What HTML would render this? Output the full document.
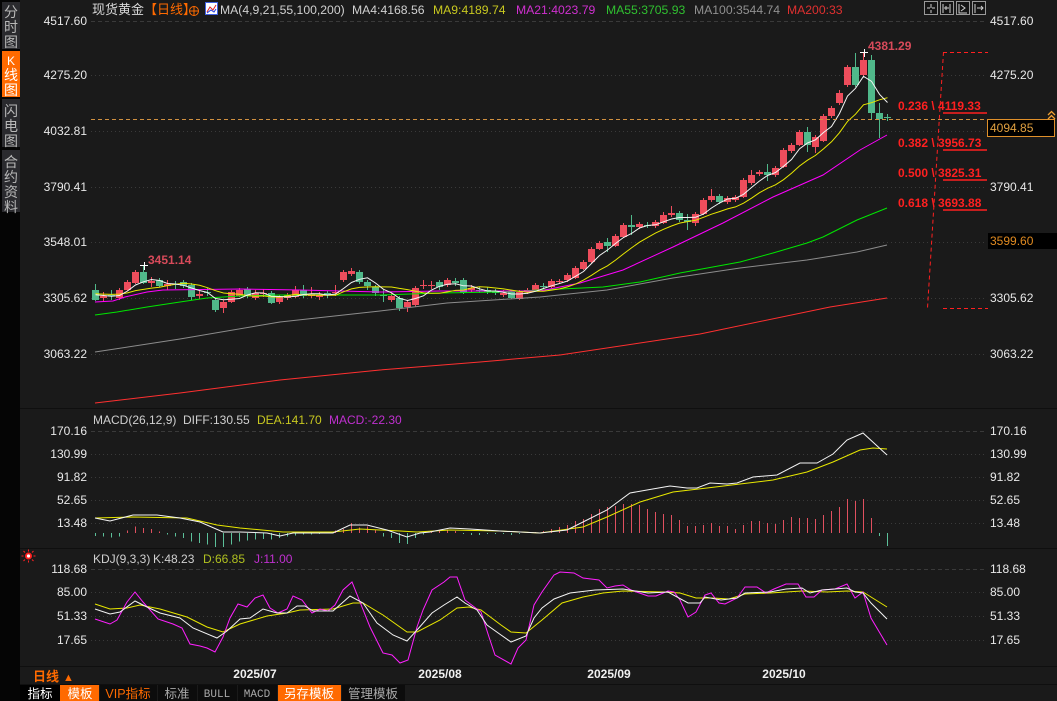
<!DOCTYPE html>
<html><head><meta charset="utf-8">
<style>
html,body{margin:0;padding:0;background:#1a1a1a;width:1057px;height:701px;overflow:hidden}
svg{display:block;font-family:"Liberation Sans","Noto Sans CJK SC",sans-serif}
</style></head><body>
<svg id="s" width="1057" height="701" viewBox="0 0 1057 701" xmlns="http://www.w3.org/2000/svg">
<rect width="1057" height="701" fill="#1a1a1a"/>
<rect x="0" y="0" width="20" height="701" fill="#050505"/>
<rect x="2" y="2" width="18" height="47" fill="#2a2a2e"/>
<rect x="2" y="51" width="18" height="46" fill="#ff6a00"/>
<rect x="2" y="99" width="18" height="48" fill="#2a2a2e"/>
<rect x="2" y="150" width="18" height="62" fill="#2a2a2e"/>
<g font-size="14" text-anchor="middle" fill="#b8b8b8">
<text x="11" y="17">分</text><text x="11" y="32">时</text><text x="11" y="47">图</text>
<text x="11" y="65" fill="#fff" font-size="12">K</text><text x="11" y="80" fill="#fff">线</text><text x="11" y="95" fill="#fff">图</text>
<text x="11" y="116">闪</text><text x="11" y="131">电</text><text x="11" y="146">图</text>
<text x="11" y="167">合</text><text x="11" y="182">约</text><text x="11" y="197">资</text><text x="11" y="212">料</text>
</g>
<g stroke="#0f0f0f" stroke-width="1" shape-rendering="crispEdges">
<line x1="20" y1="408.5" x2="1057" y2="408.5"/>
<line x1="20" y1="548.5" x2="1057" y2="548.5"/>
<line x1="20" y1="666.5" x2="1057" y2="666.5"/>
<line x1="20" y1="684.5" x2="1057" y2="684.5"/>
</g>
<g stroke="#3a3a3a" stroke-width="1" shape-rendering="crispEdges">
<line x1="91" y1="21.5" x2="987" y2="21.5" stroke-dasharray="4,3"/>
<g stroke-dasharray="1,3">
<line x1="91" y1="75.5" x2="987" y2="75.5"/><line x1="91" y1="131.5" x2="987" y2="131.5"/>
<line x1="91" y1="187.5" x2="987" y2="187.5"/><line x1="91" y1="242.5" x2="987" y2="242.5"/>
<line x1="91" y1="298.5" x2="987" y2="298.5"/><line x1="91" y1="354.5" x2="987" y2="354.5"/>
<line x1="91" y1="454.5" x2="987" y2="454.5"/><line x1="91" y1="477.5" x2="987" y2="477.5"/>
<line x1="91" y1="500.5" x2="987" y2="500.5"/><line x1="91" y1="523.5" x2="987" y2="523.5"/>
<line x1="91" y1="592.5" x2="987" y2="592.5"/><line x1="91" y1="616.5" x2="987" y2="616.5"/>
<line x1="91" y1="640.5" x2="987" y2="640.5"/>
</g>
<line x1="91" y1="431.5" x2="987" y2="431.5" stroke-dasharray="4,3"/>
<line x1="91" y1="569.5" x2="987" y2="569.5" stroke-dasharray="4,3"/>
</g>
<g id="plot"></g>
<line x1="91" y1="119.5" x2="987" y2="119.5" stroke="#d09040" stroke-dasharray="4,3" shape-rendering="crispEdges"/>
<g stroke="#ff2020" fill="none">
<line x1="943" y1="52.5" x2="988" y2="52.5" stroke-dasharray="4,3"/>
<line x1="943" y1="308.5" x2="988" y2="308.5" stroke-dasharray="4,3"/>
<line x1="943.5" y1="52" x2="927.5" y2="308" stroke-dasharray="4,3"/>
<g stroke-width="1.5"><line x1="943" y1="113" x2="987" y2="113"/><line x1="943" y1="150" x2="987" y2="150"/><line x1="943" y1="180" x2="987" y2="180"/><line x1="943" y1="210" x2="987" y2="210"/></g>
</g>
<g font-size="12" font-weight="bold" fill="#ff2020">
<text x="898" y="110">0.236 \ 4119.33</text>
<text x="898" y="147">0.382 \ 3956.73</text>
<text x="898" y="177">0.500 \ 3825.31</text>
<text x="898" y="207">0.618 \ 3693.88</text>
</g>
<g font-size="12" font-weight="bold" fill="#d84a5a">
<text x="868" y="50">4381.29</text>
<text x="148" y="264">3451.14</text>
</g>
<g stroke="#fff" stroke-width="1" shape-rendering="crispEdges">
<line x1="140" y1="265.5" x2="148" y2="265.5"/><line x1="144.5" y1="262" x2="144.5" y2="270"/>
<line x1="860" y1="52.5" x2="868" y2="52.5"/><line x1="864.5" y1="49" x2="864.5" y2="57"/>
</g>
<g font-size="12.2">
<text x="92" y="14" fill="#d8d8d8" font-size="13">现货黄金</text>
<text x="144" y="14" fill="#ff6a00" font-size="13">【日线】</text>
<text x="220" y="14" fill="#d0d0d0">MA(4,9,21,55,100,200)</text>
<text x="352" y="14" fill="#d0d0d0">MA4:4168.56</text>
<text x="433" y="14" fill="#c8c820">MA9:4189.74</text>
<text x="516" y="14" fill="#d030d0">MA21:4023.79</text>
<text x="606" y="14" fill="#30c030">MA55:3705.93</text>
<text x="694" y="14" fill="#909090">MA100:3544.74</text>
<text x="787" y="14" fill="#e03030">MA200:33</text>
</g>
<g stroke="#ff6a00" fill="none"><circle cx="194" cy="11" r="4.5"/><line x1="189" y1="11" x2="199" y2="11"/><line x1="194" y1="6" x2="194" y2="16"/></g>
<rect x="205.5" y="2.5" width="12" height="12" fill="#fff" stroke="#4060e0"/>
<polyline points="207,12 210,7 213,10 216,5" stroke="#e02020" fill="none"/>
<polyline points="207,13 211,10 214,12 216,9" stroke="#2040e0" fill="none"/>
<g stroke="#9a9a9a" fill="#151515">
<rect x="924.5" y="1.5" width="13" height="13"/><rect x="940.5" y="1.5" width="13" height="13"/>
<rect x="956.5" y="1.5" width="13" height="13"/><rect x="972.5" y="1.5" width="13" height="13"/>
</g>
<g stroke="#d0d0d0" fill="none">
<path d="M931 4v4M931 10v3M927 8h3M932 8h3"/>
<path d="M943 4v9M950 4v9M944 8h5M946 6v4"/>
<path d="M959 4v9h8M961 5l4 3-4 3"/>
<path d="M975 4v9M977 8h6M981 6l2 2-2 2"/>
</g>
<g font-size="12" fill="#e8e8e8" text-anchor="end">
<text x="87" y="25">4517.60</text><text x="87" y="79">4275.20</text><text x="87" y="135">4032.81</text>
<text x="87" y="191">3790.41</text><text x="87" y="246">3548.01</text><text x="87" y="302">3305.62</text>
<text x="87" y="358">3063.22</text>
<text x="87" y="435">170.16</text><text x="87" y="458">130.99</text><text x="87" y="481">91.82</text>
<text x="87" y="504">52.65</text><text x="87" y="527">13.48</text>
<text x="87" y="573">118.68</text><text x="87" y="596">85.00</text><text x="87" y="620">51.33</text><text x="87" y="644">17.65</text>
</g>
<g font-size="12" fill="#e8e8e8">
<text x="990" y="25">4517.60</text><text x="990" y="79">4275.20</text>
<text x="990" y="191">3790.41</text><text x="990" y="302">3305.62</text><text x="990" y="358">3063.22</text>
<text x="990" y="435">170.16</text><text x="990" y="458">130.99</text><text x="990" y="481">91.82</text>
<text x="990" y="504">52.65</text><text x="990" y="527">13.48</text>
<text x="990" y="573">118.68</text><text x="990" y="596">85.00</text><text x="990" y="620">51.33</text><text x="990" y="644">17.65</text>
</g>
<rect x="987.5" y="119.5" width="67" height="17" fill="#000" stroke="#e0902a"/>
<text x="990" y="132" font-size="12" fill="#e0a040">4094.85</text>
<rect x="988" y="233" width="69" height="16" fill="#000"/>
<text x="990" y="245" font-size="12" fill="#e08a20">3599.60</text>
<g stroke="#f0a030" fill="none" stroke-width="1.3"><polyline points="1048,115 1051.5,111.5 1055,115"/><polyline points="1048,119 1051.5,115.5 1055,119"/></g>
<g font-size="12">
<text x="93" y="424" fill="#d0d0d0">MACD(26,12,9)</text>
<text x="183" y="424" fill="#d0d0d0">DIFF:130.55</text>
<text x="257" y="424" fill="#c8c820">DEA:141.70</text>
<text x="329" y="424" fill="#c030d0">MACD:-22.30</text>
<text x="93" y="563" fill="#d0d0d0">KDJ(9,3,3)</text>
<text x="153" y="563" fill="#d0d0d0">K:48.23</text>
<text x="203" y="563" fill="#b0c020">D:66.85</text>
<text x="254" y="563" fill="#c030d0">J:11.00</text>
</g>
<g stroke="#ff2020" stroke-width="1">
<path d="M28.5 549.5v2M28.5 560.5v2M21.5 556h2M33.5 556h2M23.5 551l1.5 1.5M33.5 551l-1.5 1.5M23.5 561l1.5-1.5M33.5 561l-1.5-1.5"/>
</g>
<circle cx="28.5" cy="556" r="3.5" fill="#ff2020"/><circle cx="28.5" cy="556" r="1.6" fill="#fff"/>
<g font-size="12" font-weight="bold" fill="#f0f0f0" text-anchor="middle">
<text x="255" y="678">2025/07</text><text x="440" y="678">2025/08</text>
<text x="609" y="678">2025/09</text><text x="784" y="678">2025/10</text>
</g>
<text x="33" y="681" font-size="13" font-weight="bold" fill="#ff6a00">日线</text>
<text x="63" y="681" font-size="11" fill="#ff6a00">▲</text>
<rect x="20" y="685" width="40" height="16" fill="#000"/>
<rect x="60" y="685" width="39" height="16" fill="#ff6a00"/>
<rect x="100" y="685" width="57" height="16" fill="#0c0c0c"/>
<rect x="158" y="685" width="39" height="16" fill="#0c0c0c"/>
<rect x="198" y="685" width="39" height="16" fill="#0c0c0c"/>
<rect x="238" y="685" width="39" height="16" fill="#0c0c0c"/>
<rect x="278" y="685" width="63" height="16" fill="#ff6a00"/>
<rect x="342" y="685" width="63" height="16" fill="#0c0c0c"/>
<g font-size="12.5" text-anchor="middle">
<text x="40" y="698" fill="#fff">指标</text>
<text x="80" y="698" fill="#fff">模板</text>
<text x="128" y="698" fill="#ff6a00">VIP指标</text>
<text x="177" y="698" fill="#a8a8a8">标准</text>
<text x="217" y="697" fill="#a8a8a8" font-family="Liberation Mono" font-size="11">BULL</text>
<text x="257" y="697" fill="#a8a8a8" font-family="Liberation Mono" font-size="11">MACD</text>
<text x="309" y="698" fill="#fff">另存模板</text>
<text x="373" y="698" fill="#a8a8a8">管理模板</text>
</g>
</svg>
<script>
(function(){
var NS='http://www.w3.org/2000/svg';
var g=document.getElementById('plot');
function el(n,a){var e=document.createElementNS(NS,n);for(var k in a)e.setAttribute(k,a[k]);g.appendChild(e);return e;}
var C=[
['g',290,300,284,301],['r',296,298,292,302],['g',295,296,290,300],['r',290,298,288,300],['r',282,290,280,291],
['r',272,283,270,284],['g',272,283,265,284],['r',281,283,277,287],['g',280,286,278,287],['r',284,286,280,290],
['g',284,285,281,289],['g',282,286,280,288],['g',285,297,283,300],['r',294,296,291,299],['g',292,293,288,296],
['g',300,310,298,312],['r',302,308,300,313],['r',292,302,290,303],['r',290,296,288,297],['g',289,296,287,298],
['r',293,298,290,300],['r',293,294,289,297],['g',293,303,291,304],['r',297,302,295,304],['r',295,298,293,300],
['r',290,297,286,298],['g',290,296,285,298],['r',294,296,287,298],['r',295,297,292,300],['g',293,295,291,298],
['r',292,293,285,296],['r',272,280,270,282],['r',271,274,268,276],['g',272,282,270,284],['g',282,286,280,290],
['g',287,293,285,296],['g',295,296,290,302],['r',296,300,293,302],['g',298,308,296,311],['r',302,307,300,312],
['r',288,305,286,307],['r',285,286,280,289],['r',285,286,281,289],['g',282,287,280,290],['r',280,285,278,287],
['g',281,283,278,286],['g',280,293,278,294],['r',288,290,285,292],['g',290,291,287,293],['g',290,292,287,294],
['g',291,293,289,295],['r',293,295,290,297],['g',292,298,290,299],['r',292,299,290,300],['r',290,292,288,294],
['r',285,290,283,291],['g',286,287,283,289],['r',281,287,279,288],['r',281,282,279,284],['r',275,280,273,282],
['r',268,278,266,279],['r',262,269,260,270],['r',249,262,247,263],['r',243,249,241,250],['g',242,246,238,252],
['r',236,246,234,247],['r',225,237,223,238],['g',225,227,215,235],['r',224,227,222,229],['g',225,226,222,228],
['r',222,226,220,228],['r',215,223,212,224],['r',213,215,206,217],['g',213,220,211,222],['g',220,222,214,230],
['r',214,223,212,226],['r',200,214,198,215],['r',196,200,189,202],['g',196,202,194,204],['r',198,202,196,204],
['r',197,200,195,202],['r',180,197,178,198],['r',175,183,170,185],['r',172,174,170,176],['g',172,175,164,181],
['r',168,175,166,177],['r',150,167,148,168],['r',145,151,143,153],['r',132,145,130,146],['g',132,145,127,152],
['r',137,147,135,153],['r',116,141,114,142],['r',108,116,106,118],['r',93,103,90,105],['r',67,85,65,87],
['g',67,85,53,87],['r',60,75,52,77],['g',60,113,55,120],['g',113,119,103,138],['g',117,118,114,121]
];
var RED='#ee4d5c',GRN='#50b88a';
var rb='',gb='',rw='',gw='';
for(var i=0;i<C.length;i++){var c=C[i],x=95+8*i,h=Math.max(1,c[2]-c[1]);
var p='M'+(x-3)+' '+c[1]+'h7v'+h+'h-7z';var w='M'+(x+0.5)+' '+c[3]+'V'+c[4];
if(c[0]=='r'){rb+=p;rw+=w;}else{gb+=p;gw+=w;}}
el('path',{d:rw,stroke:RED,'stroke-width':1,fill:'none','shape-rendering':'crispEdges'});
el('path',{d:gw,stroke:GRN,'stroke-width':1,fill:'none','shape-rendering':'crispEdges'});
el('path',{d:rb,fill:RED,'shape-rendering':'crispEdges'});
el('path',{d:gb,fill:GRN,'shape-rendering':'crispEdges'});
function pl(pts,col){var s='';for(var j=0;j<pts.length;j+=2)s+=pts[j]+','+pts[j+1]+' ';el('polyline',{points:s,stroke:col,'stroke-width':1,fill:'none'});}
pl([95,403,180,393,280,380,380,370,480,362,560,355,700,334,830,307,887,298],'#ff3030');
pl([95,352,180,339,280,322,380,311,447,303,540,297,607,290,673,278,740,268,807,260,857,252,887,245],'#8c8c8c');
pl([95,315,117,312,147,307,180,302,207,298,240,296,280,295,380,295,440,293,500,292,540,290,603,287,640,282,680,273,740,262,773,253,807,243,823,237,857,220,887,208],'#00e600');
pl([95,302,113,301,125,297,147,292,163,290,240,289,300,290,380,292,440,291,540,291,580,283,623,270,673,247,723,223,773,197,823,175,860,150,887,135],'#ff00ff');
var cl=C.map(function(c){return c[0]=='r'?c[1]:c[2];});
function ma(n,col){var s='';for(var i=0;i<cl.length;i++){var t=0;for(var j=i-n+1;j<=i;j++)t+=(j<0?293:cl[j]);s+=(95.5+8*i)+','+(t/n).toFixed(1)+' ';}
el('polyline',{points:s,stroke:col,'stroke-width':1,fill:'none'});}
ma(9,'#e8e800');ma(4,'#f4f4f4');
var H=[-3,-3.5,-4.5,-3.5,2.5,6.5,5,4,1.5,-1.5,-3.5,-5,-8.5,-10,-11.5,-14,-14,-11.5,-8.5,-7.5,-6.5,-6,-6.5,-5,-3.5,-2.5,-1.5,-1.5,-1,1.5,2.5,4,10,5.5,6.5,3.5,-3.5,-5,-10,-11,-5,-1.5,1.5,2.5,3.5,
2,-1,-2,-2,-1,-1,-1,-2,-1,1,1,
2,4,6,8,12,14,19,24,26,27,29,29,28,24,21,19,18,13,7,7,8,10,7,7,4,8,12,12,10,9,13,16,15,15,14,18,22,26,34,32,34,15,-3,-13];
var hr='',hg='';
for(var i=0;i<H.length;i++){var x=95.5+8*i;var s='M'+x+' 533V'+(533-H[i]);if(H[i]>=0)hr+=s;else hg+=s;}
el('path',{d:hr,stroke:'#e0505f','stroke-width':1,fill:'none'});
el('path',{d:hg,stroke:'#5cc09a','stroke-width':1,fill:'none'});
pl([95,518,133,517,187,518,217,525,240,528,283,532,333,532,360,529,400,531,417,532,450,530,500,531,540,533,583,527,607,517,640,502,673,492,707,488,740,484,773,480,807,472,833,462,860,450,873,448,887,449],'#e8e800');
pl([95,518,110,521,133,515,157,515,180,518,200,522,223,532,240,532,267,533,280,536,293,533,333,533,350,525,367,525,387,530,407,537,420,533,430,532,450,528,470,529,500,531,540,533,567,530,583,522,607,510,630,493,647,490,670,486,687,488,697,488,710,483,727,484,737,483,753,477,777,475,800,463,817,463,833,454,847,440,863,433,887,455],'#f4f4f4');
pl([95,604,110,609,127,608,140,605,160,609,187,617,207,627,223,632,240,624,267,616,287,613,300,610,333,609,353,603,363,603,383,615,407,632,417,632,440,620,457,608,469,607,481,610,501,625,511,632,526,633,542,620,562,603,583,597,603,593,623,591,664,592,680,593,696,598,713,598,729,599,745,594,770,593,786,592,802,591,827,592,847,591,863,592,871,597,887,607],'#e8e800');
pl([95,619,110,624,117,620,127,602,135,592,143,602,158,619,173,624,182,628,190,644,200,646,207,648,215,652,223,637,230,618,238,604,247,607,255,598,263,595,270,608,278,613,287,609,293,596,302,600,312,613,320,609,328,611,335,605,343,590,352,582,360,602,370,627,383,653,392,655,400,663,408,660,417,627,423,610,432,590,444,582,450,577,457,577,465,600,481,612,489,637,495,655,511,664,518,648,526,640,534,605,542,592,554,575,560,572,574,573,583,578,599,580,607,588,615,586,623,585,631,590,648,596,656,596,668,591,674,592,680,600,688,617,696,612,705,595,711,593,719,603,725,604,737,598,745,587,757,587,766,593,774,589,786,584,798,584,806,597,814,597,822,590,835,589,847,584,855,598,863,592,871,618,887,645],'#ff20ff');
pl([95,609,110,614,120,612,135,601,147,607,160,613,180,618,193,628,217,638,227,631,240,619,250,618,263,609,277,613,287,613,297,606,305,606,313,611,333,611,350,596,363,603,377,623,393,635,407,641,417,630,432,613,444,605,457,597,465,603,477,610,487,625,501,635,511,642,526,636,534,618,542,608,554,599,570,593,595,590,623,589,648,593,668,592,688,603,700,603,705,597,721,600,737,598,745,593,770,592,786,589,802,588,810,593,822,590,847,588,855,592,863,593,871,603,887,619],'#f4f4f4');
})();
</script>
</body></html>
